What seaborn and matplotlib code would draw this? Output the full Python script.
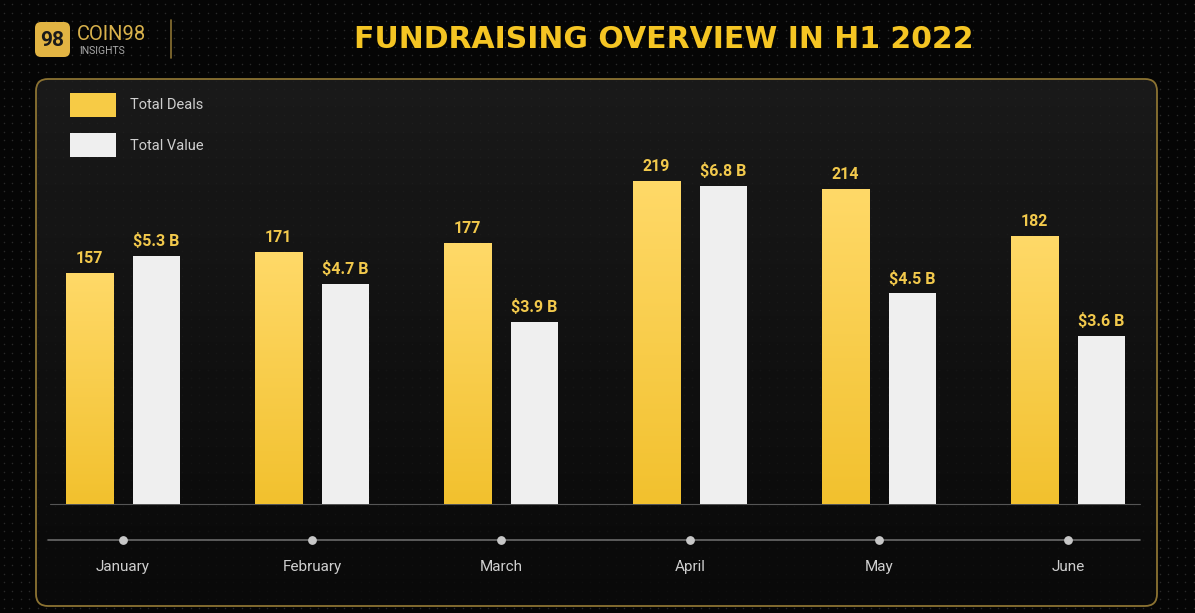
import numpy as np
import pandas as pd
import matplotlib.pyplot as plt
import seaborn as sns
from matplotlib.patches import FancyBboxPatch, Rectangle
from matplotlib.colors import LinearSegmentedColormap

# data
months = ["January", "February", "March", "April", "May", "June"]
total_deals = [157, 171, 177, 219, 214, 182]
total_value = [5.3, 4.7, 3.9, 6.8, 4.5, 3.6]
value_labels = ["$5.3 B", "$4.7 B", "$3.9 B", "$6.8 B", "$4.5 B", "$3.6 B"]

df = pd.DataFrame({"month": months, "deals": total_deals, "value": total_value})

W, H = 1195, 613
sns.set_theme(style="dark")
plt.rcParams["font.family"] = ["Roboto", "DejaVu Sans"]

fig = plt.figure(figsize=(W / 100, H / 100), dpi=100, facecolor="#050505")

YELLOW = "#F5C523"
LABEL = "#F2C94C"
GREY_TXT = "#CFCFCF"


def px(x, y):
    # pixel (from top-left) -> figure fraction
    return x / W, 1 - y / H


# background with dotted texture
bg = fig.add_axes([0, 0, 1, 1], zorder=0)
bg.set_xlim(0, W)
bg.set_ylim(H, 0)
bg.axis("off")
bg.set_facecolor("#050505")
gx, gy = np.meshgrid(np.arange(4, W, 8.5), np.arange(4, H, 8.5))
bg.scatter(gx.ravel(), gy.ravel(), s=1.2, color="#2a2a2a", linewidths=0, zorder=0.5)

# panel
grad = np.linspace(0, 1, 256).reshape(-1, 1)
panel_cmap = LinearSegmentedColormap.from_list("p", ["#1e1e1e", "#0a0a0a"])
im = bg.imshow(grad, extent=(36, 1157, 606, 79), cmap=panel_cmap, aspect="auto", zorder=1, alpha=0.85)
panel = FancyBboxPatch((36, 79), 1121, 527, boxstyle="round,pad=0,rounding_size=12",
                       facecolor="none", edgecolor="#8C7332", linewidth=1.3, zorder=3)
bg.add_patch(panel)
im.set_clip_path(panel)

# logo
logo = FancyBboxPatch((35, 22), 35, 35, boxstyle="round,pad=0,rounding_size=6",
                      facecolor="#E2B443", edgecolor="none", zorder=3)
bg.add_patch(logo)
bg.text(52.5, 40, "98", color="#1a1a1a", fontsize=15, fontweight="bold",
        ha="center", va="center", zorder=4)
bg.text(77, 40, "COIN98", color="#D9B24C", fontsize=14.5, ha="left", va="baseline", zorder=4)
bg.text(79, 54, "INSIGHTS", color="#A8A8A8", fontsize=7.5, ha="left", va="baseline", zorder=4)
bg.plot([171, 171], [20, 58], color="#8C7332", lw=1.2, zorder=4)

# title
bg.text(664, 40, "FUNDRAISING OVERVIEW IN H1 2022", color=YELLOW, fontsize=21.5,
        fontweight="bold", family="DejaVu Sans", ha="center", va="center", zorder=4)

# legend
bg.add_patch(Rectangle((70, 93), 46, 24, facecolor="#F7CB45", edgecolor="none", zorder=4))
bg.add_patch(Rectangle((70, 133), 46, 24, facecolor="#EFEFEF", edgecolor="none", zorder=4))
bg.text(130, 105, "Total Deals", color=GREY_TXT, fontsize=10.5, va="center", zorder=4)
bg.text(130, 146, "Total Value", color=GREY_TXT, fontsize=10.5, va="center", zorder=4)

# baseline and month timeline
bg.plot([50, 1140], [504, 504], color="#555555", lw=0.8, zorder=4)
bg.plot([48, 1140], [540, 540], color="#6a6a6a", lw=1.2, zorder=4)

# bar axes: two overlapping axes so each series keeps its own scale
left, bottom = px(28.5, 504)
right, top = px(1162.5, 90)
rect = [left, bottom, right - left, top - bottom]
shift = 0.177

ax_d = fig.add_axes(rect, zorder=5)
ax_v = fig.add_axes(rect, zorder=5)
for a in (ax_d, ax_v):
    a.set_facecolor("none")

sns.barplot(data=df, x="month", y="deals", ax=ax_d, color="#F7CB45", width=0.25,
            saturation=1, edgecolor="none")
sns.barplot(data=df, x="month", y="value", ax=ax_v, color="#EFEFEF", width=0.25,
            saturation=1, edgecolor="none")

# yellow gradient on deal bars
bar_cmap = LinearSegmentedColormap.from_list("b", ["#F2C12E", "#FFD968"])
for p in ax_d.patches:
    x0, w, h = p.get_x(), p.get_width(), p.get_height()
    g = ax_d.imshow(np.linspace(0, 1, 128).reshape(-1, 1), extent=(x0, x0 + w, 0, h),
                    origin="lower", cmap=bar_cmap, aspect="auto", zorder=3)
    g.set_clip_path(p)

ax_d.set_xlim(-0.5 + shift, 5.5 + shift)
ax_v.set_xlim(-0.5 - shift, 5.5 - shift)
ax_d.set_ylim(0, 281)
ax_v.set_ylim(0, 8.85)

for a, labs in ((ax_d, [str(v) for v in total_deals]), (ax_v, value_labels)):
    for p, lab in zip(a.patches, labs):
        a.annotate(lab, (p.get_x() + p.get_width() / 2, p.get_height()),
                   xytext=(0, 5), textcoords="offset points", ha="center", va="bottom",
                   color=LABEL, fontsize=11.5, fontweight="bold")
    a.axis("off")

# month dots and labels
ax_m = fig.add_axes(rect, zorder=6)
ax_m.set_facecolor("none")
ax_m.set_xlim(-0.5, 5.5)
ax_m.set_ylim(0, 1)
ax_m.axis("off")
dot_y = (504 - 540) / 414
lab_y = (504 - 567) / 414
ax_m.scatter(range(len(months)), [dot_y] * len(months), s=28, color="#C8C8C8",
             clip_on=False, zorder=7)
for i, m in enumerate(months):
    ax_m.text(i, lab_y, m, color=GREY_TXT, fontsize=11, ha="center", va="center",
              clip_on=False)

fig.savefig("out.png", dpi=100, facecolor=fig.get_facecolor())
